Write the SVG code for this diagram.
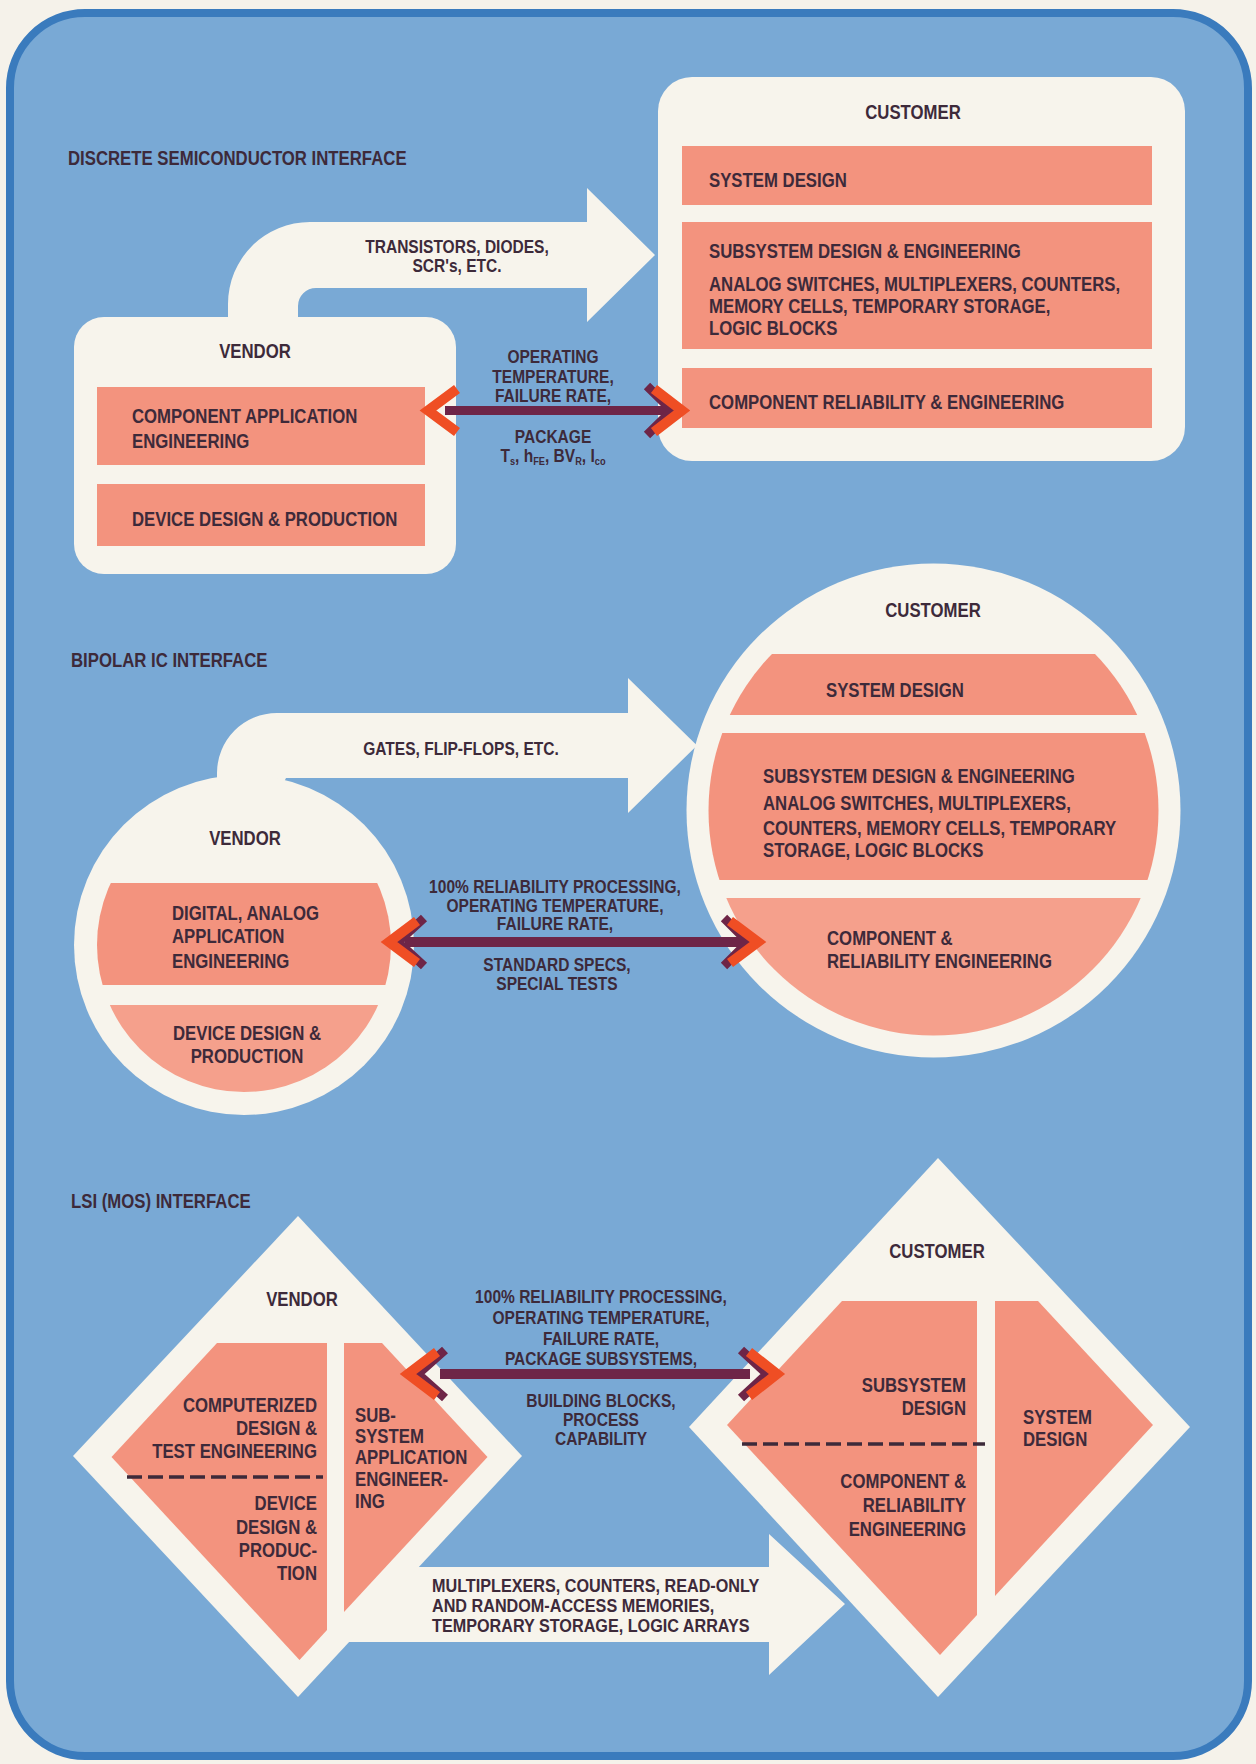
<svg xmlns="http://www.w3.org/2000/svg" width="1256" height="1764" viewBox="0 0 1256 1764">
<defs>
<style>
.t{font-family:"Liberation Sans",Arial,sans-serif;font-weight:bold;fill:#3d2a3a;font-size:19.5px;transform-box:fill-box;transform-origin:left center;transform:scaleX(0.86)}
.s{font-size:18.5px;transform:scaleX(0.84)}
.w{transform:scaleX(0.875)}
.m{text-anchor:middle;transform-origin:center center}
.e{text-anchor:end;transform-origin:right center}
.box{fill:#f7f4ec}
.band{fill:#f3937e}
.band2{fill:#f5a08c}
.bar{fill:#6e2547}
.chev{fill:none;stroke:#ef4e24;stroke-width:10;stroke-linejoin:miter;stroke-miterlimit:10}
.chevm{fill:none;stroke:#6e2547;stroke-width:9;stroke-linejoin:miter;stroke-miterlimit:10}
.dash{stroke:#3d2a3a;stroke-width:3.5;stroke-dasharray:15 6;fill:none}
</style>
<clipPath id="c2c"><circle cx="933.5" cy="810.5" r="225"/></clipPath>
<clipPath id="c2v"><circle cx="244" cy="945" r="147"/></clipPath>
</defs>
<rect x="0" y="0" width="1256" height="1764" fill="#f5f2ea"/>
<rect x="10" y="13" width="1238" height="1743" rx="75" fill="#79a9d5" stroke="#3a7bbd" stroke-width="8"/>

<g id="titles">
<text class="t" x="68" y="165">DISCRETE SEMICONDUCTOR INTERFACE</text>
<text class="t" x="71" y="667">BIPOLAR IC INTERFACE</text>
<text class="t" x="71" y="1208">LSI (MOS) INTERFACE</text>
</g>

<g id="connectors">
<path class="box" d="M228,330 L228,304 A82,82 0 0 1 310,222 L587,222 L587,188 L655,255 L587,322 L587,288 L316,288 A18,18 0 0 0 298,306 L298,330 Z"/>
<path class="box" d="M217,800 L217,773 A60,60 0 0 1 277,713 L628,713 L628,678 L697,745.5 L628,813 L628,778 L286,778 L275,800 Z"/>
<path class="box" d="M340,1567 L769,1567 L769,1534 L845,1604 L769,1675 L769,1642 L340,1642 Z"/>
</g>

<g id="s1-vendor">
<rect class="box" x="74" y="317" width="382" height="257" rx="30"/>
<rect class="band" x="97" y="387" width="328" height="78"/>
<rect class="band" x="97" y="484" width="328" height="62"/>
<text class="t m" x="255" y="358">VENDOR</text>
<text class="t" x="132" y="423">COMPONENT APPLICATION</text>
<text class="t" x="132" y="448">ENGINEERING</text>
<text class="t" x="132" y="526">DEVICE DESIGN &amp; PRODUCTION</text>
</g>

<g id="s1-customer">
<rect class="box" x="658" y="77" width="527" height="384" rx="34"/>
<rect class="band" x="682" y="146" width="470" height="59"/>
<rect class="band" x="682" y="222" width="470" height="127"/>
<rect class="band" x="682" y="368" width="470" height="60"/>
<text class="t m" x="913" y="119">CUSTOMER</text>
<text class="t" x="709" y="187">SYSTEM DESIGN</text>
<text class="t" x="709" y="258">SUBSYSTEM DESIGN &amp; ENGINEERING</text>
<text class="t" x="709" y="291">ANALOG SWITCHES, MULTIPLEXERS, COUNTERS,</text>
<text class="t" x="709" y="313">MEMORY CELLS, TEMPORARY STORAGE,</text>
<text class="t" x="709" y="335">LOGIC BLOCKS</text>
<text class="t" x="709" y="409">COMPONENT RELIABILITY &amp; ENGINEERING</text>
</g>

<g id="s1-labels">
<text class="t s m" x="457" y="253">TRANSISTORS, DIODES,</text>
<text class="t s m" x="457" y="272">SCR's, ETC.</text>
<text class="t s m" x="553" y="363">OPERATING</text>
<text class="t s m" x="553" y="383">TEMPERATURE,</text>
<text class="t s m" x="553" y="402">FAILURE RATE,</text>
<text class="t s m" x="553" y="443">PACKAGE</text>
<text class="t s m" x="553" y="462">T<tspan font-size="11" dy="3">s</tspan><tspan dy="-3">, h</tspan><tspan font-size="11" dy="3">FE</tspan><tspan dy="-3">, BV</tspan><tspan font-size="11" dy="3">R</tspan><tspan dy="-3">, I</tspan><tspan font-size="11" dy="3">co</tspan></text>
</g>

<g id="s1-link">
<rect class="bar" x="445" y="406" width="228" height="9"/>
<polyline class="chevm" points="647,386 672,410.5 647,435"/>
<polyline class="chev" points="457,389 428,410.5 457,432"/>
<polyline class="chev" points="654,389 682,410.5 654,432"/>
</g>

<g id="s2-customer">
<circle class="box" cx="933.5" cy="810.5" r="247"/>
<g clip-path="url(#c2c)">
<rect class="band" x="680" y="654" width="510" height="61"/>
<rect class="band" x="680" y="733" width="510" height="147"/>
<rect class="band2" x="680" y="898" width="510" height="160"/>
</g>
<text class="t m" x="933" y="617">CUSTOMER</text>
<text class="t" x="826" y="697">SYSTEM DESIGN</text>
<text class="t" x="763" y="783">SUBSYSTEM DESIGN &amp; ENGINEERING</text>
<text class="t" x="763" y="810">ANALOG SWITCHES, MULTIPLEXERS,</text>
<text class="t" x="763" y="835">COUNTERS, MEMORY CELLS, TEMPORARY</text>
<text class="t" x="763" y="857">STORAGE, LOGIC BLOCKS</text>
<text class="t" x="827" y="945">COMPONENT &amp;</text>
<text class="t" x="827" y="968">RELIABILITY ENGINEERING</text>
</g>

<g id="s2-vendor">
<circle class="box" cx="244" cy="945" r="170"/>
<g clip-path="url(#c2v)">
<rect class="band" x="90" y="883" width="310" height="102"/>
<rect class="band2" x="90" y="1005" width="310" height="100"/>
</g>
<text class="t m" x="245" y="845">VENDOR</text>
<text class="t" x="172" y="920">DIGITAL, ANALOG</text>
<text class="t" x="172" y="943">APPLICATION</text>
<text class="t" x="172" y="968">ENGINEERING</text>
<text class="t m" x="247" y="1040">DEVICE DESIGN &amp;</text>
<text class="t m" x="247" y="1063">PRODUCTION</text>
</g>

<g id="s2-labels">
<text class="t s m" x="461" y="755">GATES, FLIP-FLOPS, ETC.</text>
<text class="t s m" x="555" y="893">100% RELIABILITY PROCESSING,</text>
<text class="t s m" x="555" y="912">OPERATING TEMPERATURE,</text>
<text class="t s m" x="555" y="930">FAILURE RATE,</text>
<text class="t s m" x="557" y="971">STANDARD SPECS,</text>
<text class="t s m" x="557" y="990">SPECIAL TESTS</text>
</g>

<g id="s2-link">
<rect class="bar" x="405" y="937" width="340" height="10"/>
<polyline class="chevm" points="424,918 398,942 424,966"/>
<polyline class="chevm" points="724,918 748,942 724,966"/>
<polyline class="chev" points="417,921 389,942 417,963"/>
<polyline class="chev" points="730,921 758,942 730,963"/>
</g>

<g id="s3-vendor">
<polygon class="box" points="298,1216 522,1456 298,1697 73,1456"/>
<polygon class="band" points="217,1343 327,1343 327,1630 299.5,1660 111.5,1457"/>
<polygon class="band" points="344,1343 382,1343 487.5,1457 344,1612"/>
<line class="dash" x1="127" y1="1477" x2="323" y2="1477"/>
<text class="t m" x="302" y="1306">VENDOR</text>
<text class="t e" x="317" y="1412">COMPUTERIZED</text>
<text class="t e" x="317" y="1435">DESIGN &amp;</text>
<text class="t e" x="317" y="1458">TEST ENGINEERING</text>
<text class="t e" x="317" y="1510">DEVICE</text>
<text class="t e" x="317" y="1534">DESIGN &amp;</text>
<text class="t e" x="317" y="1557">PRODUC-</text>
<text class="t e" x="317" y="1580">TION</text>
<text class="t" x="355" y="1422">SUB-</text>
<text class="t" x="355" y="1443">SYSTEM</text>
<text class="t" x="355" y="1464">APPLICATION</text>
<text class="t" x="355" y="1486">ENGINEER-</text>
<text class="t" x="355" y="1508">ING</text>
</g>

<g id="s3-customer">
<polygon class="box" points="938,1158 1190,1427 938,1697 689,1427"/>
<polygon class="band" points="842,1301 977,1301 977,1615 940,1655 727,1425"/>
<polygon class="band" points="995,1301 1038,1301 1153,1425 995,1596"/>
<line class="dash" x1="742" y1="1444" x2="985" y2="1444"/>
<text class="t m" x="937" y="1258">CUSTOMER</text>
<text class="t e" x="966" y="1392">SUBSYSTEM</text>
<text class="t e" x="966" y="1415">DESIGN</text>
<text class="t e" x="966" y="1488">COMPONENT &amp;</text>
<text class="t e" x="966" y="1512">RELIABILITY</text>
<text class="t e" x="966" y="1536">ENGINEERING</text>
<text class="t" x="1023" y="1424">SYSTEM</text>
<text class="t" x="1023" y="1446">DESIGN</text>
</g>

<g id="s3-labels">
<text class="t s m" x="601" y="1303">100% RELIABILITY PROCESSING,</text>
<text class="t s m" x="601" y="1324">OPERATING TEMPERATURE,</text>
<text class="t s m" x="601" y="1345">FAILURE RATE,</text>
<text class="t s m" x="601" y="1365">PACKAGE SUBSYSTEMS,</text>
<text class="t s m" x="601" y="1407">BUILDING BLOCKS,</text>
<text class="t s m" x="601" y="1426">PROCESS</text>
<text class="t s m" x="601" y="1445">CAPABILITY</text>
<text class="t s w" x="432" y="1592">MULTIPLEXERS, COUNTERS, READ-ONLY</text>
<text class="t s w" x="432" y="1612">AND RANDOM-ACCESS MEMORIES,</text>
<text class="t s w" x="432" y="1632">TEMPORARY STORAGE, LOGIC ARRAYS</text>
</g>

<g id="s3-link">
<rect class="bar" x="440" y="1369" width="310" height="10"/>
<polyline class="chevm" points="445,1350 418,1374 445,1398"/>
<polyline class="chevm" points="741,1350 767,1374 741,1398"/>
<polyline class="chev" points="437,1352 408,1374 437,1396"/>
<polyline class="chev" points="749,1352 777,1374 749,1396"/>
</g>
</svg>
